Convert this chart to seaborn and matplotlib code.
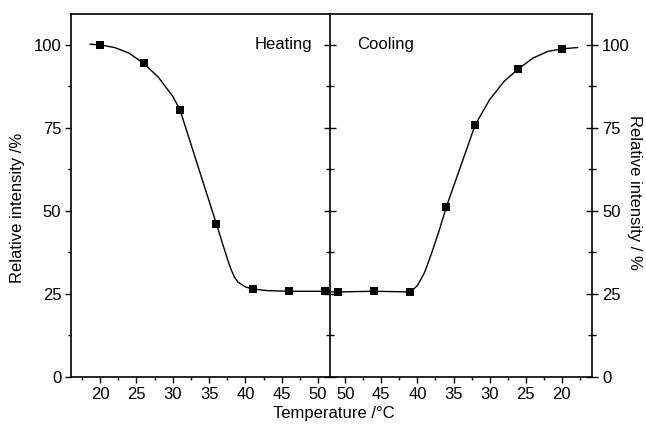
import numpy as np
import pandas as pd
import matplotlib
matplotlib.use("Agg")
import matplotlib.pyplot as plt
from matplotlib.ticker import MultipleLocator
import seaborn as sns

# measured points
heating_temp = [20, 26, 31, 36, 41, 46, 51]
heating_int = [100, 94.4, 80.4, 46.1, 26.5, 25.8, 25.8]
cooling_temp = [51, 46, 41, 36, 32, 26, 20]
cooling_int = [25.6, 25.8, 25.6, 51.2, 75.9, 92.8, 98.8]

# fitted curves
heating_fit_temp = [18.6, 20, 22, 24, 26, 28, 30, 31, 33.5, 36, 37, 37.6, 38, 38.5, 39, 40, 41, 43, 46, 51, 51.6]
heating_fit_int = [100.2, 100, 99.2, 97.5, 94.4, 90.3, 84.5, 80.4, 63.2, 46.1, 39.1, 35, 32.5, 30, 28.5, 27.1, 26.5, 26, 25.8, 25.8, 25.8]
cooling_fit_temp = [51.9, 51, 46, 41, 40, 39, 38, 37, 36, 34, 32, 30, 28, 26, 24, 22, 20, 17.8]
cooling_fit_int = [25.6, 25.6, 25.8, 25.6, 27.5, 31.5, 37.5, 44, 51.2, 63.5, 75.9, 83.5, 89, 92.8, 96, 98, 98.8, 99.2]

heat = pd.DataFrame({"t": heating_temp, "y": heating_int})
cool = pd.DataFrame({"t": cooling_temp, "y": cooling_int})
heat_fit = pd.DataFrame({"t": heating_fit_temp, "y": heating_fit_int})
cool_fit = pd.DataFrame({"t": cooling_fit_temp, "y": cooling_fit_int})

sns.set_style("ticks")
plt.rcParams["font.family"] = ["Liberation Sans", "DejaVu Sans"]
plt.rcParams["font.size"] = 12
for k in ["text.color", "axes.labelcolor", "xtick.color", "ytick.color", "axes.edgecolor"]:
    plt.rcParams[k] = "black"
narrow = ["Liberation Sans Narrow", "Liberation Sans", "DejaVu Sans"]

fig = plt.figure(figsize=(6.46, 4.24), dpi=100)
ax1 = fig.add_axes([0.110, 0.111, 0.401, 0.856])
ax2 = fig.add_axes([0.511, 0.111, 0.405, 0.856])

for ax, d, f in [(ax1, heat, heat_fit), (ax2, cool, cool_fit)]:
    sns.lineplot(data=f, x="t", y="y", sort=False, color="black", linewidth=1.0, ax=ax)
    sns.scatterplot(data=d, x="t", y="y", marker="s", color="black", s=30,
                    edgecolor="black", linewidth=0, ax=ax, zorder=3, clip_on=False)
    ax.set_ylim(0, 109.3)
    ax.yaxis.set_major_locator(MultipleLocator(25))
    ax.yaxis.set_minor_locator(MultipleLocator(12.5))
    ax.xaxis.set_major_locator(MultipleLocator(5))
    ax.xaxis.set_minor_locator(MultipleLocator(2.5))
    ax.set_xlabel("")
    ax.set_ylabel("")
    for s in ax.spines.values():
        s.set_linewidth(1.2)
        s.set_color("black")

ax1.set_xlim(16.0, 51.65)
ax2.set_xlim(52.1, 15.85)

ax1.tick_params(axis="both", which="major", direction="out", length=4, width=1, labelsize=12, pad=3)
ax1.tick_params(axis="both", which="minor", direction="out", length=2.5, width=1)
ax1.tick_params(axis="y", right=False, which="both")
ax1.spines["right"].set_visible(False)

ax2.tick_params(axis="x", which="major", direction="out", length=4, width=1, labelsize=12, pad=3)
ax2.tick_params(axis="x", which="minor", direction="out", length=2.5, width=1)
ax2.tick_params(axis="y", which="both", direction="inout", left=True, right=True,
                labelleft=False, labelright=True, labelsize=12)
ax2.tick_params(axis="y", which="major", length=8, width=1)
ax2.tick_params(axis="y", which="minor", length=6, width=1)

ax1.set_ylabel("Relative intensity /%", fontsize=12, family=narrow, va="center", ha="center")
ax1.yaxis.set_label_coords(-0.205, 0.466)
ax2.yaxis.set_label_position("right")
ax2.set_ylabel("Relative intensity / %", fontsize=12, family=narrow, rotation=270,
               va="center", ha="center")
ax2.yaxis.set_label_coords(1.164, 0.507)

ax1.text(49.2, 100, "Heating", ha="right", va="center", fontsize=12)
ax2.text(48.3, 100, "Cooling", ha="left", va="center", fontsize=12)

fig.text(0.517, 0.008, "Temperature /°C", ha="center", va="bottom", fontsize=12)

fig.savefig("out.png", dpi=100)
